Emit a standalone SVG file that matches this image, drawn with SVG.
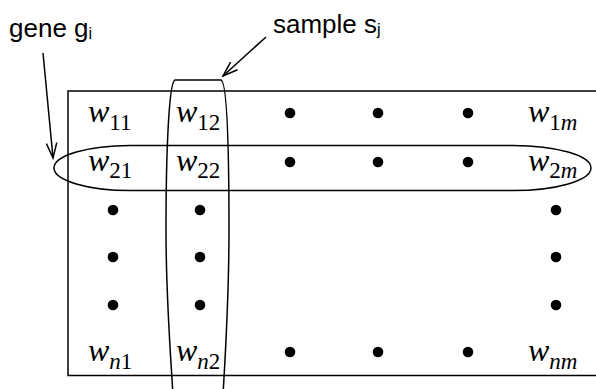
<svg xmlns="http://www.w3.org/2000/svg" width="596" height="389" viewBox="0 0 596 389">
<style>
.ln{fill:none;stroke:#000;stroke-width:1.5}
.lbl{font-family:"Liberation Sans",Arial,sans-serif;font-size:26px;fill:#000}
.lsub{font-size:16px}
.w{font-family:"Liberation Serif","Times New Roman",serif;font-size:32px;font-style:italic;fill:#000}
.s{font-size:23px;font-style:normal}
.si{font-size:23px;font-style:italic}
.dot{fill:#000}
</style>
<defs>
<marker id="open" markerUnits="userSpaceOnUse" viewBox="0 0 18 12" refX="16" refY="6" markerWidth="18" markerHeight="12" orient="auto">
<path d="M1,0.8 L16,6 L1,11.2" fill="none" stroke="#000" stroke-width="1.5"/>
</marker>
</defs>
<rect width="596" height="389" fill="#fff"/>
<g id="matrix">
<path class="ln" d="M600,91 H68 V375.5 H600"/>
</g>
<g id="cells">
<text class="w" x="88" y="122">w<tspan class="s" dy="8">11</tspan></text>
<text class="w" x="176" y="122">w<tspan class="s" dy="8">12</tspan></text>
<text class="w" x="528" y="122">w<tspan class="s" dy="8">1</tspan><tspan class="si">m</tspan></text>
<text class="w" x="88" y="171">w<tspan class="s" dy="7">21</tspan></text>
<text class="w" x="176" y="171">w<tspan class="s" dy="7">22</tspan></text>
<text class="w" x="528" y="171">w<tspan class="s" dy="7">2</tspan><tspan class="si">m</tspan></text>
<text class="w" x="88" y="361">w<tspan class="si" dy="8">n</tspan><tspan class="s">1</tspan></text>
<text class="w" x="176" y="361">w<tspan class="si" dy="8">n</tspan><tspan class="s">2</tspan></text>
<text class="w" x="528" y="361">w<tspan class="si" dy="8">nm</tspan></text>
<g class="dot">
<circle cx="290" cy="113" r="5.3"/><circle cx="378" cy="113" r="5.3"/><circle cx="468" cy="113" r="5.3"/>
<circle cx="290" cy="162" r="5.3"/><circle cx="378" cy="162" r="5.3"/><circle cx="468" cy="162" r="5.3"/>
<circle cx="113" cy="210" r="5.3"/><circle cx="113" cy="257" r="5.3"/><circle cx="113" cy="305" r="5.3"/>
<circle cx="200" cy="210" r="5.3"/><circle cx="200" cy="257" r="5.3"/><circle cx="200" cy="305" r="5.3"/>
<circle cx="556" cy="210" r="5.3"/><circle cx="556" cy="257" r="5.3"/><circle cx="556" cy="305" r="5.3"/>
<circle cx="290" cy="352" r="5.3"/><circle cx="378" cy="352" r="5.3"/><circle cx="468" cy="352" r="5.3"/>
</g>
</g>
<g id="gene-row">
<path class="ln" d="M130,145.5 H513 A78,22.5 0 0 1 513,190.5 H130 A76,22.5 0 0 1 130,145.5 Z"/>
</g>
<g id="sample-col">
<path class="ln" d="M173,395 C171,360 166,300 166,230 C166,150 169,82 175,80 H221 C227,82 229,150 229,230 C229,300 225,360 223,395"/>
</g>
<g id="gene-label">
<text class="lbl" x="9" y="37">gene g<tspan class="lsub" dy="2">i</tspan></text>
</g>
<g id="sample-label">
<text class="lbl" x="273" y="33">sample s<tspan class="lsub" dy="2">j</tspan></text>
</g>
<g id="connectors">
<line class="ln" x1="43" y1="53" x2="53" y2="158" marker-end="url(#open)"/>
<line class="ln" x1="266" y1="37" x2="223" y2="76" marker-end="url(#open)"/>
</g>
</svg>
